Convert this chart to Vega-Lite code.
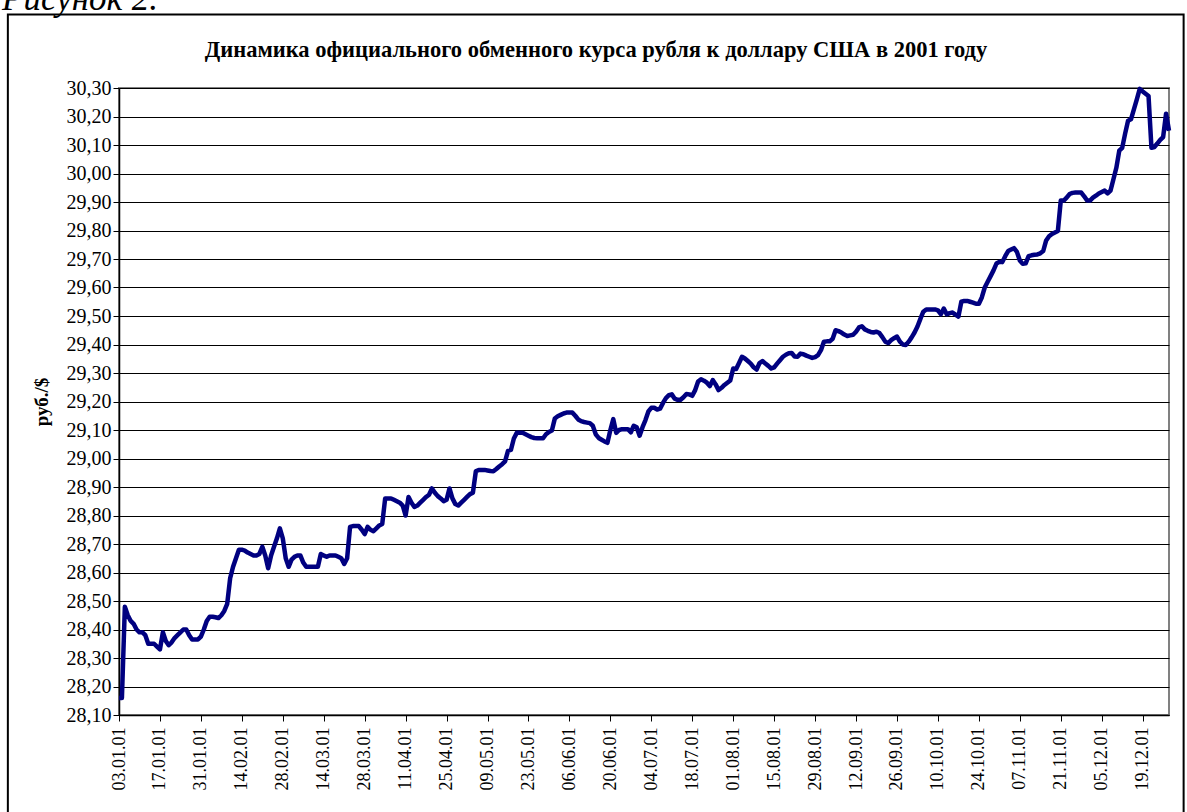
{
"$schema": "https://vega.github.io/schema/vega-lite/v6.json",
"width": 1050,
"height": 627,
"autosize": "none",
"padding": {"left": 119, "top": 88, "right": 18, "bottom": 97},
"background": "white",
"title": {"text": "Динамика официального обменного курса рубля к доллару США в 2001 году", "font": "Liberation Serif", "fontSize": 22.5, "fontWeight": "bold", "color": "black", "anchor": "middle", "frame": "group", "dx": -48, "offset": 0, "dy": 80},
"config": {
 "font": "Liberation Serif",
 "view": {"stroke": "#808080", "strokeWidth": 2},
 "axis": {"labelColor": "black", "titleColor": "black", "tickColor": "black", "domainColor": "black", "labelFont": "Liberation Serif", "titleFont": "Liberation Serif"}
},
"datasets": {
 "rate": [
{"d":"2001-01-03","v":28.16},{"d":"2001-01-04","v":28.16},{"d":"2001-01-05","v":28.48},{"d":"2001-01-06","v":28.45},{"d":"2001-01-07","v":28.43},{"d":"2001-01-08","v":28.42},{"d":"2001-01-09","v":28.40},{"d":"2001-01-10","v":28.39},{"d":"2001-01-11","v":28.39},{"d":"2001-01-12","v":28.38},{"d":"2001-01-13","v":28.35},{"d":"2001-01-14","v":28.35},{"d":"2001-01-15","v":28.35},{"d":"2001-01-16","v":28.34},{"d":"2001-01-17","v":28.33},{"d":"2001-01-18","v":28.39},{"d":"2001-01-19","v":28.36},{"d":"2001-01-20","v":28.345},{"d":"2001-01-21","v":28.355},{"d":"2001-01-22","v":28.37},{"d":"2001-01-23","v":28.38},{"d":"2001-01-24","v":28.39},{"d":"2001-01-25","v":28.40},{"d":"2001-01-26","v":28.40},{"d":"2001-01-27","v":28.38},{"d":"2001-01-28","v":28.365},{"d":"2001-01-29","v":28.365},{"d":"2001-01-30","v":28.365},{"d":"2001-01-31","v":28.375},
{"d":"2001-02-01","v":28.40},{"d":"2001-02-02","v":28.43},{"d":"2001-02-03","v":28.445},{"d":"2001-02-04","v":28.445},{"d":"2001-02-05","v":28.443},{"d":"2001-02-06","v":28.44},{"d":"2001-02-07","v":28.45},{"d":"2001-02-08","v":28.465},{"d":"2001-02-09","v":28.49},{"d":"2001-02-10","v":28.58},{"d":"2001-02-11","v":28.62},{"d":"2001-02-12","v":28.65},{"d":"2001-02-13","v":28.68},{"d":"2001-02-14","v":28.68},{"d":"2001-02-15","v":28.677},{"d":"2001-02-16","v":28.67},{"d":"2001-02-17","v":28.665},{"d":"2001-02-18","v":28.66},{"d":"2001-02-19","v":28.66},{"d":"2001-02-20","v":28.665},{"d":"2001-02-21","v":28.69},{"d":"2001-02-22","v":28.66},{"d":"2001-02-23","v":28.615},{"d":"2001-02-24","v":28.66},{"d":"2001-02-25","v":28.69},{"d":"2001-02-26","v":28.72},{"d":"2001-02-27","v":28.755},{"d":"2001-02-28","v":28.72},
{"d":"2001-03-01","v":28.65},{"d":"2001-03-02","v":28.62},{"d":"2001-03-03","v":28.645},{"d":"2001-03-04","v":28.655},{"d":"2001-03-05","v":28.66},{"d":"2001-03-06","v":28.66},{"d":"2001-03-07","v":28.635},{"d":"2001-03-08","v":28.62},{"d":"2001-03-09","v":28.62},{"d":"2001-03-10","v":28.62},{"d":"2001-03-11","v":28.62},{"d":"2001-03-12","v":28.62},{"d":"2001-03-13","v":28.665},{"d":"2001-03-14","v":28.66},{"d":"2001-03-15","v":28.655},{"d":"2001-03-16","v":28.66},{"d":"2001-03-17","v":28.66},{"d":"2001-03-18","v":28.66},{"d":"2001-03-19","v":28.655},{"d":"2001-03-20","v":28.65},{"d":"2001-03-21","v":28.63},{"d":"2001-03-22","v":28.65},{"d":"2001-03-23","v":28.76},{"d":"2001-03-24","v":28.763},{"d":"2001-03-25","v":28.763},{"d":"2001-03-26","v":28.763},{"d":"2001-03-27","v":28.75},{"d":"2001-03-28","v":28.735},{"d":"2001-03-29","v":28.76},{"d":"2001-03-30","v":28.75},{"d":"2001-03-31","v":28.745},
{"d":"2001-04-01","v":28.755},{"d":"2001-04-02","v":28.765},{"d":"2001-04-03","v":28.77},{"d":"2001-04-04","v":28.86},{"d":"2001-04-05","v":28.86},{"d":"2001-04-06","v":28.86},{"d":"2001-04-07","v":28.855},{"d":"2001-04-08","v":28.85},{"d":"2001-04-09","v":28.845},{"d":"2001-04-10","v":28.835},{"d":"2001-04-11","v":28.80},{"d":"2001-04-12","v":28.865},{"d":"2001-04-13","v":28.845},{"d":"2001-04-14","v":28.83},{"d":"2001-04-15","v":28.835},{"d":"2001-04-16","v":28.845},{"d":"2001-04-17","v":28.855},{"d":"2001-04-18","v":28.865},{"d":"2001-04-19","v":28.873},{"d":"2001-04-20","v":28.895},{"d":"2001-04-21","v":28.88},{"d":"2001-04-22","v":28.868},{"d":"2001-04-23","v":28.86},{"d":"2001-04-24","v":28.85},{"d":"2001-04-25","v":28.855},{"d":"2001-04-26","v":28.895},{"d":"2001-04-27","v":28.86},{"d":"2001-04-28","v":28.84},{"d":"2001-04-29","v":28.835},{"d":"2001-04-30","v":28.845},
{"d":"2001-05-01","v":28.855},{"d":"2001-05-02","v":28.865},{"d":"2001-05-03","v":28.875},{"d":"2001-05-04","v":28.88},{"d":"2001-05-05","v":28.955},{"d":"2001-05-06","v":28.96},{"d":"2001-05-07","v":28.96},{"d":"2001-05-08","v":28.96},{"d":"2001-05-09","v":28.958},{"d":"2001-05-10","v":28.956},{"d":"2001-05-11","v":28.955},{"d":"2001-05-12","v":28.963},{"d":"2001-05-13","v":28.972},{"d":"2001-05-14","v":28.98},{"d":"2001-05-15","v":28.99},{"d":"2001-05-16","v":29.027},{"d":"2001-05-17","v":29.03},{"d":"2001-05-18","v":29.07},{"d":"2001-05-19","v":29.09},{"d":"2001-05-20","v":29.09},{"d":"2001-05-21","v":29.09},{"d":"2001-05-22","v":29.085},{"d":"2001-05-23","v":29.08},{"d":"2001-05-24","v":29.075},{"d":"2001-05-25","v":29.072},{"d":"2001-05-26","v":29.071},{"d":"2001-05-27","v":29.071},{"d":"2001-05-28","v":29.071},{"d":"2001-05-29","v":29.085},{"d":"2001-05-30","v":29.093},{"d":"2001-05-31","v":29.098},
{"d":"2001-06-01","v":29.14},{"d":"2001-06-02","v":29.148},{"d":"2001-06-03","v":29.153},{"d":"2001-06-04","v":29.158},{"d":"2001-06-05","v":29.161},{"d":"2001-06-06","v":29.161},{"d":"2001-06-07","v":29.161},{"d":"2001-06-08","v":29.15},{"d":"2001-06-09","v":29.137},{"d":"2001-06-10","v":29.131},{"d":"2001-06-11","v":29.128},{"d":"2001-06-12","v":29.126},{"d":"2001-06-13","v":29.124},{"d":"2001-06-14","v":29.115},{"d":"2001-06-15","v":29.085},{"d":"2001-06-16","v":29.072},{"d":"2001-06-17","v":29.066},{"d":"2001-06-18","v":29.06},{"d":"2001-06-19","v":29.055},{"d":"2001-06-20","v":29.10},{"d":"2001-06-21","v":29.138},{"d":"2001-06-22","v":29.09},{"d":"2001-06-23","v":29.10},{"d":"2001-06-24","v":29.103},{"d":"2001-06-25","v":29.103},{"d":"2001-06-26","v":29.103},{"d":"2001-06-27","v":29.092},{"d":"2001-06-28","v":29.115},{"d":"2001-06-29","v":29.11},{"d":"2001-06-30","v":29.08},
{"d":"2001-07-01","v":29.11},{"d":"2001-07-02","v":29.135},{"d":"2001-07-03","v":29.165},{"d":"2001-07-04","v":29.178},{"d":"2001-07-05","v":29.178},{"d":"2001-07-06","v":29.172},{"d":"2001-07-07","v":29.175},{"d":"2001-07-08","v":29.195},{"d":"2001-07-09","v":29.212},{"d":"2001-07-10","v":29.222},{"d":"2001-07-11","v":29.225},{"d":"2001-07-12","v":29.21},{"d":"2001-07-13","v":29.206},{"d":"2001-07-14","v":29.206},{"d":"2001-07-15","v":29.215},{"d":"2001-07-16","v":29.226},{"d":"2001-07-17","v":29.225},{"d":"2001-07-18","v":29.22},{"d":"2001-07-19","v":29.24},{"d":"2001-07-20","v":29.27},{"d":"2001-07-21","v":29.278},{"d":"2001-07-22","v":29.273},{"d":"2001-07-23","v":29.266},{"d":"2001-07-24","v":29.254},{"d":"2001-07-25","v":29.275},{"d":"2001-07-26","v":29.26},{"d":"2001-07-27","v":29.24},{"d":"2001-07-28","v":29.248},{"d":"2001-07-29","v":29.258},{"d":"2001-07-30","v":29.266},{"d":"2001-07-31","v":29.274},
{"d":"2001-08-01","v":29.316},{"d":"2001-08-02","v":29.314},{"d":"2001-08-03","v":29.335},{"d":"2001-08-04","v":29.357},{"d":"2001-08-05","v":29.351},{"d":"2001-08-06","v":29.342},{"d":"2001-08-07","v":29.333},{"d":"2001-08-08","v":29.32},{"d":"2001-08-09","v":29.312},{"d":"2001-08-10","v":29.335},{"d":"2001-08-11","v":29.342},{"d":"2001-08-12","v":29.333},{"d":"2001-08-13","v":29.325},{"d":"2001-08-14","v":29.316},{"d":"2001-08-15","v":29.32},{"d":"2001-08-16","v":29.333},{"d":"2001-08-17","v":29.345},{"d":"2001-08-18","v":29.357},{"d":"2001-08-19","v":29.364},{"d":"2001-08-20","v":29.369},{"d":"2001-08-21","v":29.37},{"d":"2001-08-22","v":29.358},{"d":"2001-08-23","v":29.357},{"d":"2001-08-24","v":29.368},{"d":"2001-08-25","v":29.366},{"d":"2001-08-26","v":29.361},{"d":"2001-08-27","v":29.357},{"d":"2001-08-28","v":29.353},{"d":"2001-08-29","v":29.356},{"d":"2001-08-30","v":29.363},{"d":"2001-08-31","v":29.38},
{"d":"2001-09-01","v":29.41},{"d":"2001-09-02","v":29.411},{"d":"2001-09-03","v":29.411},{"d":"2001-09-04","v":29.42},{"d":"2001-09-05","v":29.45},{"d":"2001-09-06","v":29.447},{"d":"2001-09-07","v":29.442},{"d":"2001-09-08","v":29.435},{"d":"2001-09-09","v":29.43},{"d":"2001-09-10","v":29.432},{"d":"2001-09-11","v":29.434},{"d":"2001-09-12","v":29.445},{"d":"2001-09-13","v":29.46},{"d":"2001-09-14","v":29.464},{"d":"2001-09-15","v":29.453},{"d":"2001-09-16","v":29.448},{"d":"2001-09-17","v":29.444},{"d":"2001-09-18","v":29.442},{"d":"2001-09-19","v":29.445},{"d":"2001-09-20","v":29.44},{"d":"2001-09-21","v":29.426},{"d":"2001-09-22","v":29.41},{"d":"2001-09-23","v":29.405},{"d":"2001-09-24","v":29.415},{"d":"2001-09-25","v":29.422},{"d":"2001-09-26","v":29.428},{"d":"2001-09-27","v":29.41},{"d":"2001-09-28","v":29.40},{"d":"2001-09-29","v":29.398},{"d":"2001-09-30","v":29.41},
{"d":"2001-10-01","v":29.425},{"d":"2001-10-02","v":29.442},{"d":"2001-10-03","v":29.463},{"d":"2001-10-04","v":29.49},{"d":"2001-10-05","v":29.515},{"d":"2001-10-06","v":29.523},{"d":"2001-10-07","v":29.523},{"d":"2001-10-08","v":29.523},{"d":"2001-10-09","v":29.523},{"d":"2001-10-10","v":29.52},{"d":"2001-10-11","v":29.506},{"d":"2001-10-12","v":29.526},{"d":"2001-10-13","v":29.506},{"d":"2001-10-14","v":29.51},{"d":"2001-10-15","v":29.512},{"d":"2001-10-16","v":29.505},{"d":"2001-10-17","v":29.498},{"d":"2001-10-18","v":29.55},{"d":"2001-10-19","v":29.553},{"d":"2001-10-20","v":29.553},{"d":"2001-10-21","v":29.55},{"d":"2001-10-22","v":29.547},{"d":"2001-10-23","v":29.543},{"d":"2001-10-24","v":29.543},{"d":"2001-10-25","v":29.565},{"d":"2001-10-26","v":29.60},{"d":"2001-10-27","v":29.62},{"d":"2001-10-28","v":29.64},{"d":"2001-10-29","v":29.66},{"d":"2001-10-30","v":29.684},{"d":"2001-10-31","v":29.69},
{"d":"2001-11-01","v":29.689},{"d":"2001-11-02","v":29.71},{"d":"2001-11-03","v":29.728},{"d":"2001-11-04","v":29.733},{"d":"2001-11-05","v":29.738},{"d":"2001-11-06","v":29.725},{"d":"2001-11-07","v":29.695},{"d":"2001-11-08","v":29.683},{"d":"2001-11-09","v":29.685},{"d":"2001-11-10","v":29.71},{"d":"2001-11-11","v":29.713},{"d":"2001-11-12","v":29.715},{"d":"2001-11-13","v":29.716},{"d":"2001-11-14","v":29.72},{"d":"2001-11-15","v":29.728},{"d":"2001-11-16","v":29.765},{"d":"2001-11-17","v":29.78},{"d":"2001-11-18","v":29.788},{"d":"2001-11-19","v":29.793},{"d":"2001-11-20","v":29.798},{"d":"2001-11-21","v":29.905},{"d":"2001-11-22","v":29.905},{"d":"2001-11-23","v":29.915},{"d":"2001-11-24","v":29.928},{"d":"2001-11-25","v":29.932},{"d":"2001-11-26","v":29.933},{"d":"2001-11-27","v":29.933},{"d":"2001-11-28","v":29.933},{"d":"2001-11-29","v":29.92},{"d":"2001-11-30","v":29.905},
{"d":"2001-12-01","v":29.905},{"d":"2001-12-02","v":29.915},{"d":"2001-12-03","v":29.922},{"d":"2001-12-04","v":29.93},{"d":"2001-12-05","v":29.935},{"d":"2001-12-06","v":29.94},{"d":"2001-12-07","v":29.93},{"d":"2001-12-08","v":29.94},{"d":"2001-12-09","v":29.98},{"d":"2001-12-10","v":30.02},{"d":"2001-12-11","v":30.08},{"d":"2001-12-12","v":30.09},{"d":"2001-12-13","v":30.14},{"d":"2001-12-14","v":30.185},{"d":"2001-12-15","v":30.19},{"d":"2001-12-16","v":30.225},{"d":"2001-12-17","v":30.26},{"d":"2001-12-18","v":30.297},{"d":"2001-12-19","v":30.288},{"d":"2001-12-20","v":30.28},{"d":"2001-12-21","v":30.272},{"d":"2001-12-22","v":30.09},{"d":"2001-12-23","v":30.093},{"d":"2001-12-24","v":30.105},{"d":"2001-12-25","v":30.118},{"d":"2001-12-26","v":30.128},{"d":"2001-12-27","v":30.21},{"d":"2001-12-28","v":30.15}
 ]
},
"layer": [
 {
  "data": {"values": [{"label": "frame"}]},
  "mark": {"type": "rect", "fill": "white", "fillOpacity": 0, "stroke": "black", "strokeWidth": 2, "clip": false},
  "encoding": {
   "x": {"datum": {"year": 2000, "month": 11, "date": 26, "utc": true}, "type": "temporal"},
   "x2": {"datum": {"year": 2002, "month": 1, "date": 2, "utc": true}},
   "y": {"datum": 30.558, "type": "quantitative"},
   "y2": {"datum": 27.6}
  }
 },
 {
  "data": {"values": [{"label": "Рисунок 2."}]},
  "mark": {"type": "text", "align": "left", "baseline": "alphabetic", "font": "Liberation Serif", "fontStyle": "italic", "fontSize": 35, "color": "black", "clip": false},
  "encoding": {
   "x": {"datum": {"year": 2000, "month": 11, "date": 24, "utc": true}, "type": "temporal"},
   "y": {"datum": 30.575, "type": "quantitative"},
   "text": {"field": "label"}
  }
 },
 {
  "data": {"name": "rate"},
  "mark": {"type": "line", "color": "#000080", "strokeWidth": 4.5, "strokeJoin": "round"},
  "encoding": {
   "x": {"field": "d", "type": "temporal",
    "scale": {"type": "utc", "domain": [{"year": 2001, "month": 1, "date": 3, "utc": true}, {"year": 2001, "month": 12, "date": 28, "utc": true}], "nice": false},
    "axis": {"title": null, "grid": false, "format": "%d.%m.%y", "labelAngle": -90, "labelAlign": "right", "labelBaseline": "middle", "labelFontSize": 18, "labelPadding": 6, "tickSize": 6, "tickWidth": 1, "domainWidth": 1.5, "labelOverlap": false, "labelBound": false, "labelFlush": false, "tickCount": 40,
     "values": [
      {"year":2001,"month":1,"date":3,"utc":true},{"year":2001,"month":1,"date":17,"utc":true},{"year":2001,"month":1,"date":31,"utc":true},{"year":2001,"month":2,"date":14,"utc":true},{"year":2001,"month":2,"date":28,"utc":true},{"year":2001,"month":3,"date":14,"utc":true},{"year":2001,"month":3,"date":28,"utc":true},{"year":2001,"month":4,"date":11,"utc":true},{"year":2001,"month":4,"date":25,"utc":true},{"year":2001,"month":5,"date":9,"utc":true},{"year":2001,"month":5,"date":23,"utc":true},{"year":2001,"month":6,"date":6,"utc":true},{"year":2001,"month":6,"date":20,"utc":true},{"year":2001,"month":7,"date":4,"utc":true},{"year":2001,"month":7,"date":18,"utc":true},{"year":2001,"month":8,"date":1,"utc":true},{"year":2001,"month":8,"date":15,"utc":true},{"year":2001,"month":8,"date":29,"utc":true},{"year":2001,"month":9,"date":12,"utc":true},{"year":2001,"month":9,"date":26,"utc":true},{"year":2001,"month":10,"date":10,"utc":true},{"year":2001,"month":10,"date":24,"utc":true},{"year":2001,"month":11,"date":7,"utc":true},{"year":2001,"month":11,"date":21,"utc":true},{"year":2001,"month":12,"date":5,"utc":true},{"year":2001,"month":12,"date":19,"utc":true}
     ]}
   },
   "y": {"field": "v", "type": "quantitative",
    "scale": {"domain": [28.1, 30.3], "nice": false, "zero": false},
    "axis": {"title": "руб./$", "titleFontSize": 19, "titleFontWeight": "bold", "titlePadding": 15, "grid": true, "gridColor": "black", "gridWidth": 1, "tickSize": 6, "labelPadding": 2, "labelFontSize": 20, "domainWidth": 1.5, "labelOverlap": false, "tickCount": 40,
     "values": [28.1,28.2,28.3,28.4,28.5,28.6,28.7,28.8,28.9,29.0,29.1,29.2,29.3,29.4,29.5,29.6,29.7,29.8,29.9,30.0,30.1,30.2,30.3],
     "labelExpr": "replace(format(datum.value, '.2f'), '.', ',')"}
   }
  }
 }
]
}
